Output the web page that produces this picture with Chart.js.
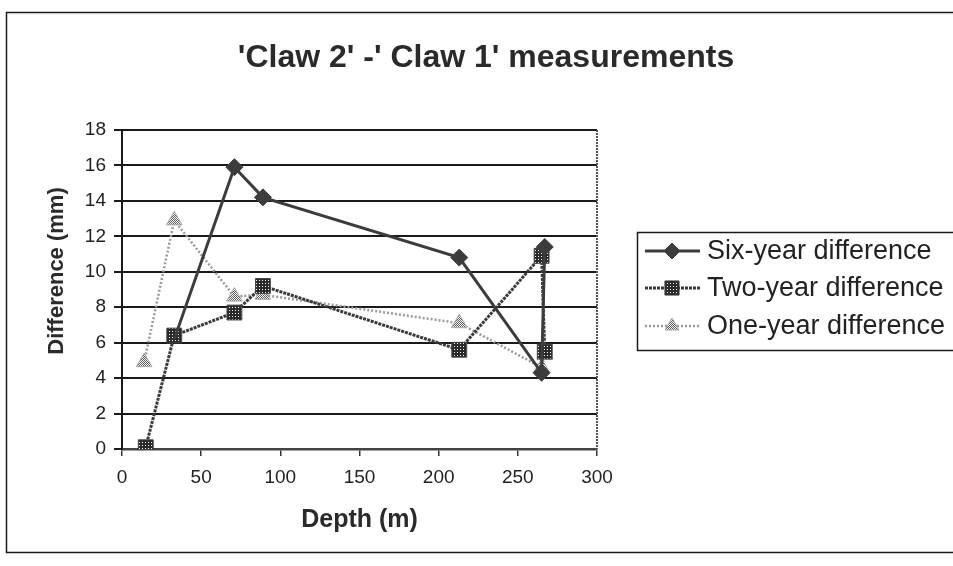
<!DOCTYPE html>
<html>
<head>
<meta charset="utf-8">
<script src="https://cdn.jsdelivr.net/npm/chart.js@4/dist/chart.umd.min.js"></script>
<style>
  html, body { margin: 0; padding: 0; background: #ffffff; }
  #wrap { width: 953px; height: 566px; position: relative; }
</style>
</head>
<body>
<div id="wrap"><canvas id="c" width="953" height="566"></canvas></div>
<script>
// ---- data ----
const chartTitle = "'Claw 2' -' Claw 1' measurements";
const xAxisTitle = "Depth (m)";
const yAxisTitle = "Difference (mm)";
const seriesNames = ["Six-year difference", "Two-year difference", "One-year difference"];

const sixYearDepth = [33, 71, 89, 213, 265, 267];
const sixYearDiff  = [6.2, 15.9, 14.2, 10.8, 4.3, 11.4];

const twoYearDepth = [15, 33, 71, 89, 213, 265, 267];
const twoYearDiff  = [0.1, 6.4, 7.7, 9.2, 5.6, 10.9, 5.5];

const oneYearDepth = [14, 33, 71, 89, 213, 265, 267];
const oneYearDiff  = [4.9, 12.9, 8.6, 8.7, 7.1, 4.6, 5.3];

const xTicks = [0, 50, 100, 150, 200, 250, 300];
const yTicks = [0, 2, 4, 6, 8, 10, 12, 14, 16, 18];

function toPoints(xs, ys) { return xs.map((x, i) => ({ x: x, y: ys[i] })); }

// ---- patterns ----
function makePattern(size, bg, dot, dots) {
  const c = document.createElement('canvas');
  c.width = size; c.height = size;
  const g = c.getContext('2d');
  g.fillStyle = bg; g.fillRect(0, 0, size, size);
  g.fillStyle = dot;
  dots.forEach(d => g.fillRect(d[0], d[1], 1, 1));
  return g.createPattern(c, 'repeat');
}
const ctx = document.getElementById('c').getContext('2d');
const checkPattern = makePattern(3, '#2a2a2a', '#ffffff', [[1, 1]]);
const lightPattern = makePattern(2, '#ffffff', '#5a5a5a', [[0, 0], [1, 1]]);

const FONT = "'Liberation Sans', Arial, Helvetica, sans-serif";

const datasets = [
  {
    label: seriesNames[0],
    data: toPoints(sixYearDepth, sixYearDiff),
    borderColor: '#3c3c3c',
    backgroundColor: '#3c3c3c',
    borderWidth: 3,
    pointStyle: 'rectRot',
    pointRadius: sixYearDepth.map((d, i) => i === 0 ? 0 : 8.5),
    pointBorderWidth: 1,
    pointBackgroundColor: '#3c3c3c',
    pointBorderColor: '#3c3c3c',
    legendRadius: 8,
    order: 1
  },
  {
    label: seriesNames[1],
    data: toPoints(twoYearDepth, twoYearDiff),
    borderColor: '#3a3a3a',
    backgroundColor: checkPattern,
    borderWidth: 3,
    borderDash: [3, 1],
    pointStyle: 'rect',
    pointRadius: 10.5,
    pointBorderWidth: 1,
    pointBackgroundColor: checkPattern,
    pointBorderColor: '#444',
    legendRadius: 10,
    order: 2
  },
  {
    label: seriesNames[2],
    data: toPoints(oneYearDepth, oneYearDiff),
    borderColor: '#9a9a9a',
    backgroundColor: lightPattern,
    borderWidth: 2.5,
    borderDash: [2, 2],
    pointStyle: 'triangle',
    pointRadius: 9,
    pointBorderWidth: 1,
    pointBackgroundColor: lightPattern,
    pointBorderColor: '#aaaaaa',
    legendRadius: 8,
    order: 3
  }
];

// frame, title, plot border, y title and legend
const decorPlugin = {
  id: 'decor',
  beforeDraw(chart) {
    const c = chart.ctx;
    c.save();
    c.fillStyle = '#ffffff';
    c.fillRect(0, 0, chart.width, chart.height);
    c.strokeStyle = '#1a1a1a';
    c.lineWidth = 1.5;
    c.strokeRect(6.5, 12.5, 1000, 540);
    c.restore();
  },
  afterDatasetsDraw(chart) {
    const a = chart.chartArea;
    const c = chart.ctx;
    c.save();
    c.strokeStyle = '#555';
    c.lineWidth = 2;
    c.setLineDash([2, 1]);
    c.beginPath();
    c.moveTo(a.right, a.top);
    c.lineTo(a.right, a.bottom);
    c.stroke();
    c.restore();
  },
  afterDraw(chart) {
    const c = chart.ctx;
    c.save();
    // chart title
    c.fillStyle = '#2a2a2a';
    c.font = "bold 32px " + FONT;
    c.textAlign = 'center';
    c.textBaseline = 'middle';
    c.fillText(chartTitle, 486, 58);
    // y axis title
    c.save();
    c.translate(57, 271);
    c.rotate(-Math.PI / 2);
    c.font = "bold 22px " + FONT;
    c.fillText(yAxisTitle, 0, 0);
    c.restore();
    // legend box
    c.strokeStyle = '#1a1a1a';
    c.lineWidth = 1.5;
    c.strokeRect(637.5, 232.5, 400, 118);
    const rows = [251, 288, 326];
    chart.data.datasets.forEach((ds, i) => {
      const y = rows[i];
      c.save();
      c.strokeStyle = ds.borderColor;
      c.lineWidth = ds.borderWidth;
      c.setLineDash(ds.borderDash || []);
      c.beginPath();
      c.moveTo(645, y);
      c.lineTo(700, y);
      c.stroke();
      c.restore();
      c.save();
      c.setLineDash([]);
      c.fillStyle = ds.pointBackgroundColor;
      c.strokeStyle = ds.pointBorderColor;
      c.lineWidth = ds.pointBorderWidth;
      Chart.helpers.drawPoint(c, {
        pointStyle: ds.pointStyle,
        radius: ds.legendRadius,
        borderWidth: ds.pointBorderWidth,
        rotation: 0
      }, 672, y);
      c.restore();
      c.fillStyle = '#222';
      c.font = "27px " + FONT;
      c.textBaseline = 'middle';
      c.textAlign = 'left';
      c.fillText(ds.label, 707, y + 1);
    });
    c.restore();
  }
};

new Chart(ctx, {
  type: 'line',
  data: { datasets: datasets },
  options: {
    responsive: false,
    animation: false,
    devicePixelRatio: 1,
    layout: { padding: { left: 0, right: 356, top: 130, bottom: 0 } },
    plugins: {
      legend: { display: false },
      tooltip: { enabled: false },
      title: { display: false }
    },
    scales: {
      x: {
        type: 'linear',
        min: 0, max: 300,
        afterBuildTicks(scale) { scale.ticks = xTicks.map(v => ({ value: v })); },
        afterFit(scale) { scale.height = 117; },
        ticks: { color: '#222', font: { family: FONT, size: 19 }, padding: 10, maxRotation: 0 },
        grid: { drawOnChartArea: false, drawTicks: true, tickLength: 7, color: '#333', lineWidth: 1.5 },
        border: { display: true, color: '#444', width: 2.5, dash: [2, 1] },
        title: {
          display: true, text: xAxisTitle, color: '#2a2a2a',
          font: { family: FONT, size: 25, weight: 'bold', lineHeight: 1.2 },
          padding: { top: 4, bottom: 31 }
        }
      },
      y: {
        type: 'linear',
        min: 0, max: 18,
        afterBuildTicks(scale) { scale.ticks = yTicks.map(v => ({ value: v })); },
        afterFit(scale) { scale.width = 122; },
        ticks: { color: '#222', font: { family: FONT, size: 19 }, padding: 8 },
        grid: { drawOnChartArea: true, drawTicks: true, tickLength: 8, color: '#1a1a1a', lineWidth: 2 },
        border: { display: true, color: '#1a1a1a', width: 2 },
        title: { display: false }
      }
    }
  },
  plugins: [decorPlugin]
});
</script>
</body>
</html>
